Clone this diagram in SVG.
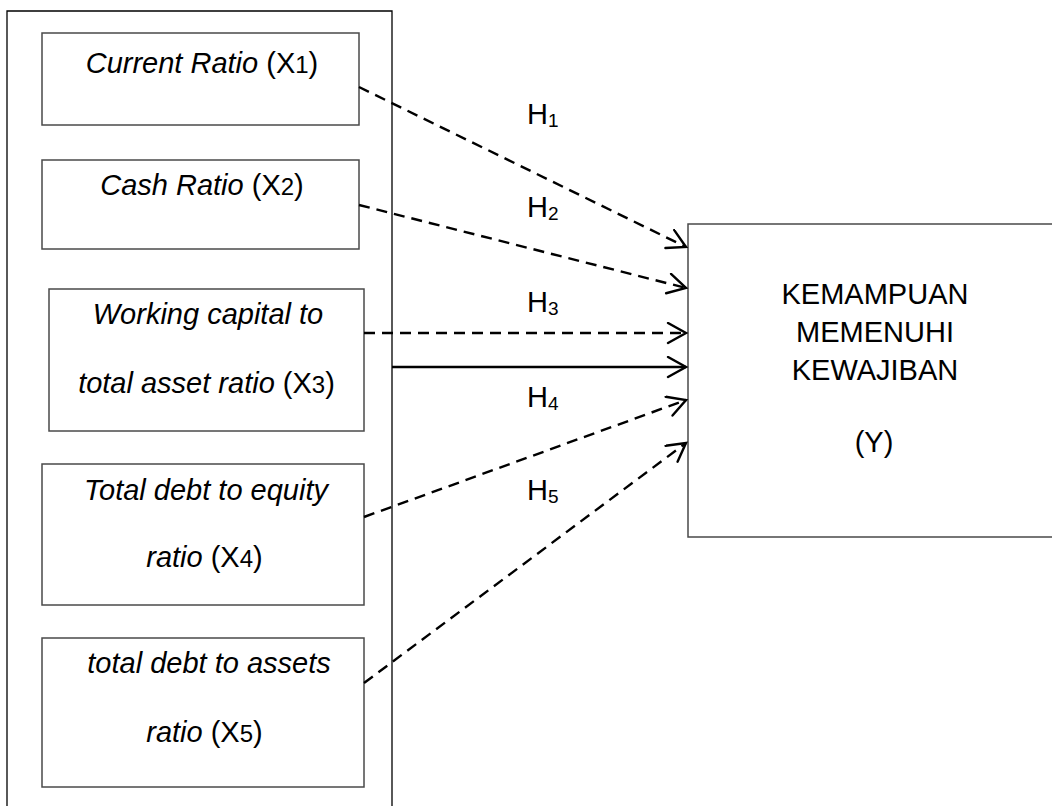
<svg xmlns="http://www.w3.org/2000/svg" width="1052" height="806" viewBox="0 0 1052 806">
<defs>
<style>
.box{fill:#fff;stroke:#4a4a4a;stroke-width:1.5}
.frame{fill:none;stroke:#000;stroke-width:1.3}
text{font-family:"Liberation Sans",Arial,sans-serif;font-size:29px;fill:#000}
.c{text-anchor:middle}
.it{font-style:italic}
.sm{font-size:24px}
.sub{font-size:19px}
.dash{fill:none;stroke:#000;stroke-width:2.4;stroke-dasharray:11,7}
.solid{fill:none;stroke:#000;stroke-width:2.4}
</style>
<marker id="arr" markerUnits="userSpaceOnUse" markerWidth="24" markerHeight="24" refX="20" refY="11" orient="auto" viewBox="0 0 24 24">
<path d="M2,1 L20,11 L2,21" fill="none" stroke="#000" stroke-width="2.4" stroke-linecap="round" stroke-linejoin="miter"/>
</marker>
</defs>
<rect width="1052" height="806" fill="#fff"/>
<g id="frame">
<path class="frame" d="M7,806 V11 H392 V806"/>
</g>
<g id="x1">
<rect class="box" x="42" y="33" width="317" height="92"/>
<text class="c" x="202" y="73"><tspan class="it">Current Ratio</tspan> (X<tspan class="sm">1</tspan>)</text>
</g>
<g id="x2">
<rect class="box" x="42" y="160" width="317" height="89"/>
<text class="c" x="202" y="195"><tspan class="it">Cash Ratio</tspan> (X<tspan class="sm">2</tspan>)</text>
</g>
<g id="x3">
<rect class="box" x="49" y="289" width="315" height="142"/>
<text class="c it" x="208" y="324">Working capital to</text>
<text class="c" x="206.5" y="393"><tspan class="it">total asset ratio</tspan> (X<tspan class="sm">3</tspan>)</text>
</g>
<g id="x4">
<rect class="box" x="42" y="464" width="322" height="141"/>
<text class="c it" x="206" y="500">Total debt to equity</text>
<text class="c" x="204.5" y="567"><tspan class="it">ratio</tspan> (X<tspan class="sm">4</tspan>)</text>
</g>
<g id="x5">
<rect class="box" x="42" y="638" width="322" height="149"/>
<text class="c it" x="209" y="673">total debt to assets</text>
<text class="c" x="204.5" y="742"><tspan class="it">ratio</tspan> (X<tspan class="sm">5</tspan>)</text>
</g>
<g id="y">
<path class="box" d="M1053,224 H688 V537 H1053"/>
<text class="c" x="875" y="304">KEMAMPUAN</text>
<text class="c" x="875" y="342">MEMENUHI</text>
<text class="c" x="875" y="380">KEWAJIBAN</text>
<text class="c" x="874" y="452">(Y)</text>
</g>
<g id="connectors">
<line class="dash" x1="359" y1="87" x2="686" y2="247" marker-end="url(#arr)"/>
<line class="dash" x1="359" y1="205" x2="686" y2="288" marker-end="url(#arr)"/>
<line class="dash" x1="364" y1="333" x2="686" y2="333" marker-end="url(#arr)"/>
<line class="solid" x1="392" y1="367" x2="686" y2="367" marker-end="url(#arr)"/>
<line class="dash" x1="364" y1="517" x2="686" y2="400" marker-end="url(#arr)"/>
<line class="dash" x1="364" y1="683" x2="686" y2="443" marker-end="url(#arr)"/>
</g>
<g id="labels">
<text x="527" y="124">H<tspan class="sub" dy="3">1</tspan></text>
<text x="527" y="217">H<tspan class="sub" dy="3">2</tspan></text>
<text x="527" y="312">H<tspan class="sub" dy="3">3</tspan></text>
<text x="527" y="407">H<tspan class="sub" dy="3">4</tspan></text>
<text x="527" y="500">H<tspan class="sub" dy="3">5</tspan></text>
</g>
</svg>
